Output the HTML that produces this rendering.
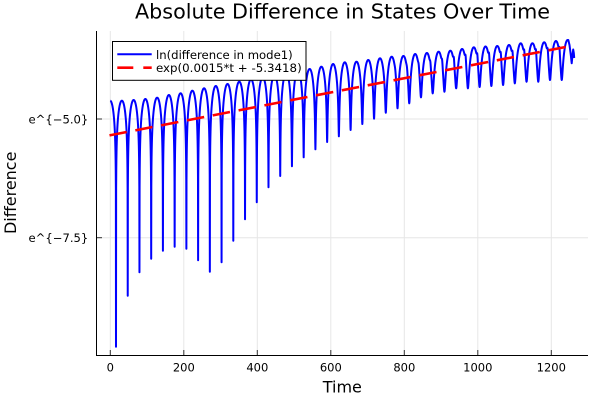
<!DOCTYPE html>
<html>
<head>
<meta charset="utf-8">
<style>
html,body{margin:0;padding:0;background:#fff;}
svg{display:block;}
text{font-family:"DejaVu Sans","Liberation Sans",sans-serif;fill:#000;}
</style>
</head>
<body>
<svg id="chart" width="600" height="400" viewBox="0 0 600 400" xmlns="http://www.w3.org/2000/svg">
<rect x="0" y="0" width="600" height="400" fill="#fff"/>
<!-- grid -->
<g stroke="#e6e6e6" stroke-width="1">
<line x1="110.3" y1="31" x2="110.3" y2="355"/>
<line x1="183.8" y1="31" x2="183.8" y2="355"/>
<line x1="257.3" y1="31" x2="257.3" y2="355"/>
<line x1="330.8" y1="31" x2="330.8" y2="355"/>
<line x1="404.3" y1="31" x2="404.3" y2="355"/>
<line x1="477.8" y1="31" x2="477.8" y2="355"/>
<line x1="551.3" y1="31" x2="551.3" y2="355"/>
<line x1="96.5" y1="119" x2="588" y2="119"/>
<line x1="96.5" y1="237.7" x2="588" y2="237.7"/>
</g>
<!-- axes -->
<g stroke="#000" stroke-width="1">
<line x1="96.5" y1="31" x2="96.5" y2="355.5"/>
<line x1="96" y1="355.5" x2="588" y2="355.5"/>
</g>
<g stroke="#333" stroke-width="1">
<line x1="110.3" y1="355" x2="110.3" y2="350"/>
<line x1="183.8" y1="355" x2="183.8" y2="350"/>
<line x1="257.3" y1="355" x2="257.3" y2="350"/>
<line x1="330.8" y1="355" x2="330.8" y2="350"/>
<line x1="404.3" y1="355" x2="404.3" y2="350"/>
<line x1="477.8" y1="355" x2="477.8" y2="350"/>
<line x1="551.3" y1="355" x2="551.3" y2="350"/>
<line x1="97" y1="119" x2="102" y2="119"/>
<line x1="97" y1="237.7" x2="102" y2="237.7"/>
</g>
<!-- blue series (static fallback, refined by script) -->
<path id="blue" fill="none" stroke="#0000ff" stroke-width="2" stroke-linejoin="round"
d="M110.3,100.7 L116,346.7 L121.9,100.7 L127.7,295.7 L133.6,100 L139.5,272.3 L145.3,99 L151.2,258.7 L157.1,97.7 L162.9,250.7 L168.8,95 L174.7,246.7 L180.5,93.3 L186.4,248.7 L192.2,90.7 L198.1,260.3 L204,88.3 L209.8,271.7 L215.7,86 L221.6,262.3 L227.4,84 L233.3,240.7 L239.2,81.7 L245,219.3 L250.9,79.4 L256.8,202.3 L262.6,77.3 L268.5,187.3 L274.4,75.2 L280.2,176 L286.1,73.1 L292,166.3 L297.8,71 L303.7,157.3 L309.5,69 L315.4,149.3 L321.3,66.7 L327.1,142 L333,64 L338.9,136.3 L344.7,62.3 L350.6,130 L356.5,61.7 L362.3,124 L368.2,60 L374.1,118.7 L379.9,58.3 L385.8,112.7 L391.7,56.7 L397.5,108.3 L403.4,56 L409.3,103.3 L415.1,54 L421,97.3 L426.8,53 L432.7,93.3 L438.6,51.7 L444.4,91.7 L450.3,50.7 L456.2,88.3 L462,49 L467.9,88.3 L473.8,47.3 L479.6,87 L485.5,46.5 L491.4,86 L497.2,46 L503.1,85 L508.9,45 L514.8,83.3 L520.7,43.3 L526.6,81.7 L532.4,43.3 L538.3,81.7 L544.1,42.3 L550,80 L555.9,41 L561.7,80 L567.6,40 L569.5,45 L571.7,63.3 L573.2,49.5 L574.2,58"/>
<!-- red fit line -->
<path d="M109.5,135.36 L574,45.35" fill="none" stroke="#ff0000" stroke-width="2.6" stroke-dasharray="17.5 8.8"/>
<!-- legend -->
<rect x="112.5" y="41.5" width="193.5" height="38.8" fill="#fff" stroke="#000" stroke-width="1"/>
<line x1="117.3" y1="54.3" x2="151.7" y2="54.3" stroke="#0000ff" stroke-width="2"/>
<path d="M117.3,67.7 L151.7,67.7" stroke="#ff0000" stroke-width="2.6" stroke-dasharray="16 10" fill="none"/>
<text x="156" y="58.8" font-size="11.6" textLength="136.7" lengthAdjust="spacingAndGlyphs">ln(difference in mode1)</text>
<text x="156" y="72.2" font-size="11.6" textLength="145.7" lengthAdjust="spacingAndGlyphs">exp(0.0015*t + -5.3418)</text>
<!-- tick labels -->
<g font-size="11.5" text-anchor="middle">
<text x="110.3" y="371.6">0</text>
<text x="183.8" y="371.6">200</text>
<text x="257.3" y="371.6">400</text>
<text x="330.8" y="371.6">600</text>
<text x="404.3" y="371.6">800</text>
<text x="477.8" y="371.6">1000</text>
<text x="551.3" y="371.6">1200</text>
</g>
<g font-size="11.6" text-anchor="end">
<text x="88.3" y="123.5">e^{−5.0}</text>
<text x="88.3" y="242.2">e^{−7.5}</text>
</g>
<!-- axis labels & title -->
<text x="342.3" y="392.5" font-size="16" text-anchor="middle">Time</text>
<text transform="translate(16,192.8) rotate(-90)" font-size="16" text-anchor="middle">Difference</text>
<text x="342.5" y="18.5" font-size="20.6" text-anchor="middle" textLength="415" lengthAdjust="spacingAndGlyphs">Absolute Difference in States Over Time</text>
</svg>
<script>
(function(){
var dy=[346.7,295.7,272.3,258.7,250.7,246.7,248.7,260.3,271.7,262.3,240.7,219.3,202.3,187.3,176,166.3,157.3,149.3,142,136.3,130,124,118.7,112.7,108.3,103.3,97.3,93.3,91.7,88.3,88.3,87,86,85,83.3,81.7,81.7,80,80];
var py=[100.7,100,99,97.7,95,93.3,90.7,88.3,86,84,81.7,79.4,77.3,75.2,73.1,71,69,66.7,64,62.3,61.7,60,58.3,56.7,56,54,53,51.7,50.7,49,47.3,46.5,46,45,43.3,43.3,42.3,41,40];
var P=11.73,D0=116,S=47.47,K=0.55;
function peakY(x){var u=(x-D0)/P-0.5;if(u<=0)return py[0];if(u>=py.length-1)return py[py.length-1];var j=Math.floor(u),f=u-j;return py[j]*(1-f)+py[j+1]*f;}
function eps2(j){j=Math.max(0,Math.min(dy.length-1,j));var xd=D0+j*P;var D=(dy[j]-peakY(xd))/S;var e=Math.exp(-D/K);return e*e/(1-e*e);}
function yv(i,w){
  var x=D0+(i+w)*P;var s=Math.sin(Math.PI*w);var s2=s*s;
  var el=eps2(i),er=eps2(i+1);
  var vl=K*0.5*Math.log((s2+el)/(1+el)),vr=K*0.5*Math.log((s2+er)/(1+er));
  var v=(1-w)*vl+w*vr;
  var yy=peakY(x)-v*S;
  var a=Math.max(0,Math.min(1,(x-380)/80))*6;
  if(a>0){var xs=D0+(i+1)*P-2.3;yy-=a*Math.exp(-Math.pow((x-xs)/0.6,2));}
  return [x,yy];
}
var pts=[];var N=90;
for(var i=-1;i<dy.length;i++){
  for(var m=0;m<N;m++){
    var w=m/N;var x=D0+(i+w)*P;
    if(x<110.3)continue;
    if(x>567.6)break;
    var p=yv(i,w);pts.push(p[0].toFixed(2)+","+p[1].toFixed(2));
  }
}
var st=yv(-1,(110.3-(D0-P))/P);
pts.unshift(st[0].toFixed(2)+","+st[1].toFixed(2));
pts.push("568.3,40","569.5,45","570.8,55","571.7,63.3","572.5,55","573.2,49.5","573.8,53","574.2,58");
document.getElementById("blue").setAttribute("d","M"+pts.join(" L"));
})();
</script>
</body>
</html>
